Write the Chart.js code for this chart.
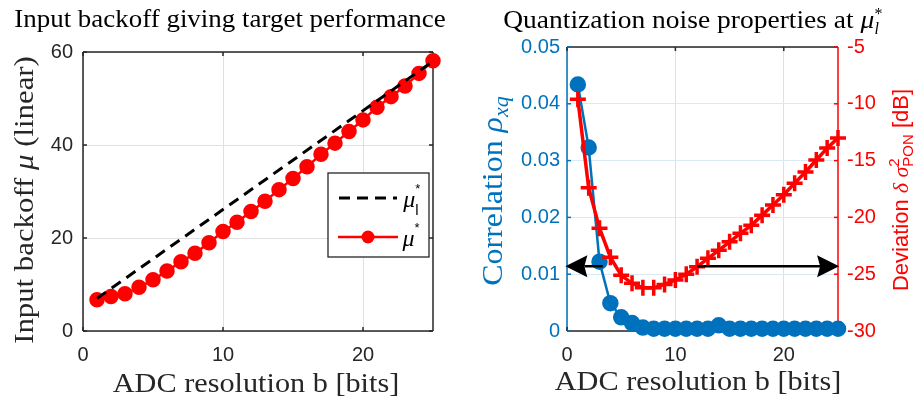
<!DOCTYPE html>
<html>
<head>
<meta charset="utf-8">
<script src="https://cdn.jsdelivr.net/npm/chart.js@4/dist/chart.umd.min.js"></script>
<style>
  html, body { margin: 0; padding: 0; background: #fff; }
  #wrap { position: relative; width: 915px; height: 398px; overflow: hidden; }
  canvas { position: absolute; top: 0; }
</style>
</head>
<body>
<div id="wrap">
  <canvas id="left"  width="457" height="398" style="left:0;width:457px;height:398px"></canvas>
  <canvas id="right" width="458" height="398" style="left:457px;width:458px;height:398px"></canvas>
</div>
<script>
'use strict';

// ─── Data ────────────────────────────────────────────────────────────────────
const BITS = [1, 2, 3, 4, 5, 6, 7, 8, 9, 10, 11, 12, 13, 14, 15, 16, 17, 18, 19, 20, 21, 22, 23, 24, 25];

// input backoff reaching the target (linear)
const MU_STAR = [6.7, 7.4, 8.0, 9.4, 11.0, 12.9, 14.9, 16.7, 19.0, 21.4, 23.4, 25.7, 27.9,
                 30.4, 32.8, 35.3, 38.0, 40.4, 42.9, 45.4, 48.1, 50.4, 52.7, 55.4, 58.1];
const MU_L_BITS = [1, 25];
const MU_L_STAR = [7.0, 58.0];

// correlation between input and quantization noise
const RHO_XQ = [0.0434, 0.0323, 0.0122, 0.0049, 0.0024, 0.0014, 0.0006, 0.0004, 0.0004, 0.0004,
                0.0004, 0.0004, 0.0004, 0.0010, 0.0004, 0.0004, 0.0004, 0.0004, 0.0004, 0.0004,
                0.0004, 0.0004, 0.0004, 0.0004, 0.0004];
// deviation of the noise power (dB)
const DEV_DB = [-9.6, -17.4, -20.95, -23.5, -25.1, -25.8, -26.2, -26.2, -25.9, -25.5, -25.0, -24.35, -23.6,
                -22.9, -22.15, -21.4, -20.7, -19.8, -18.9, -18.0, -17.0, -16.0, -14.95, -13.9, -13.0];

const X_TICKS   = [0, 10, 20];
const MU_TICKS  = [0, 20, 40, 60];
const RHO_TICKS = [0, 0.01, 0.02, 0.03, 0.04, 0.05];
const DEV_TICKS = [-30, -25, -20, -15, -10, -5];

// axis-pointer arrows: [b, value] pairs on the given y scale
const ARROWS = [
  { axis: 'y',  from: [3.3, 0.0114], to: [-0.15, 0.0114] },
  { axis: 'y1', from: [12, -24.3],   to: [25.1, -24.3] },
];

// ─── Style ───────────────────────────────────────────────────────────────────
const SERIF   = '"Liberation Serif", "Times New Roman", serif';
const SANS    = '"Liberation Sans", Arial, Helvetica, sans-serif';
const STRETCH = 1.1;           // widen the Times face towards Computer Modern
const AX_GRAY   = '#262626';
const GRID_GRAY = '#e0e0e0';
const GRID_BLUE = '#d9eaf5';
const BLUE = '#0072BD';
const RED  = '#FF0000';

// ─── Helpers ─────────────────────────────────────────────────────────────────
const pts = (xs, ys) => xs.map((x, i) => ({ x, y: ys[i] }));

function axis({ position, min, max, ticks, color, grid, pad, size }) {
  return {
    type: 'linear',
    position, min, max,
    afterBuildTicks: s => { s.ticks = ticks.map(v => ({ value: v })); },
    afterFit: s => { if (s.isHorizontal()) s.height = size; else s.width = size; },
    grid: grid ? { color: grid, lineWidth: 1, drawTicks: false } : { display: false, drawTicks: false },
    border: { display: false },
    ticks: {
      color, padding: pad, autoSkip: false, maxRotation: 0,
      font: { family: SANS, size: 20 },
      callback: v => String(v),
    },
  };
}

function runFont(r) {
  return `${r.it ? 'italic ' : ''}${r.size}px ${r.sans ? SANS : SERIF}`;
}

// Draw a row of text runs (sub/superscripts via dy), centred at x
function drawRuns(ctx, runs, x, y, rot, color) {
  ctx.save();
  ctx.translate(x, y);
  ctx.rotate(rot || 0);
  ctx.fillStyle = color;
  ctx.textAlign = 'left';
  ctx.textBaseline = 'alphabetic';
  const widths = runs.map(r => {
    ctx.font = runFont(r);
    return ctx.measureText(r.t).width * (r.sx || 1);
  });
  const total = runs.reduce((acc, r, i) => acc + (r.stack ? 0 : widths[i]), 0);
  let cx = -total / 2;
  runs.forEach((r, i) => {
    ctx.save();
    ctx.font = runFont(r);
    ctx.translate(cx, r.dy || 0);
    ctx.scale(r.sx || 1, 1);
    ctx.fillText(r.t, 0, 0);
    ctx.restore();
    if (!r.stack) cx += widths[i];
  });
  ctx.restore();
}

// Axes box and inward tick marks, under the data
function axesBox(edges, marks) {
  return {
    id: 'axesBox',
    beforeDatasetsDraw(chart) {
      const { ctx, chartArea: a } = chart;
      ctx.save();
      ctx.lineWidth = 1.5;
      const seg = (c, x0, y0, x1, y1) => {
        ctx.strokeStyle = c; ctx.beginPath(); ctx.moveTo(x0, y0); ctx.lineTo(x1, y1); ctx.stroke();
      };
      seg(edges.top,    a.left,  a.top,    a.right, a.top);
      seg(edges.bottom, a.left,  a.bottom, a.right, a.bottom);
      seg(edges.left,   a.left,  a.top,    a.left,  a.bottom);
      seg(edges.right,  a.right, a.top,    a.right, a.bottom);
      const L = 4;
      marks.forEach(m => {
        const s = chart.scales[m.id];
        s.ticks.forEach(t => {
          const p = s.getPixelForValue(t.value);
          m.sides.forEach(side => {
            if (side === 'bottom') seg(m.color, p, a.bottom, p, a.bottom - L);
            if (side === 'top')    seg(m.color, p, a.top, p, a.top + L);
            if (side === 'left')   seg(m.color, a.left, p, a.left + L, p);
            if (side === 'right')  seg(m.color, a.right, p, a.right - L, p);
          });
        });
      });
      ctx.restore();
    },
  };
}

function textLayer(items) {
  return {
    id: 'textLayer',
    afterDraw(chart) {
      items.forEach(it => drawRuns(chart.ctx, it.runs, it.x, it.y, it.rot, it.color));
    },
  };
}

function drawArrow(ctx, x0, y0, x1, y1) {
  const L = 22, W = 11, N = 3;
  const ang = Math.atan2(y1 - y0, x1 - x0);
  const len = Math.hypot(x1 - x0, y1 - y0);
  ctx.save();
  ctx.translate(x1, y1);
  ctx.rotate(ang);
  ctx.strokeStyle = '#000'; ctx.fillStyle = '#000'; ctx.lineWidth = 2.5;
  ctx.beginPath(); ctx.moveTo(-len, 0); ctx.lineTo(-L + N, 0); ctx.stroke();
  ctx.beginPath();
  ctx.moveTo(0, 0); ctx.lineTo(-L, -W); ctx.lineTo(-L + N, 0); ctx.lineTo(-L, W);
  ctx.closePath(); ctx.fill();
  ctx.restore();
}

const arrowLayer = {
  id: 'arrowLayer',
  afterDatasetsDraw(chart) {
    const xs = chart.scales.x;
    ARROWS.forEach(a => {
      const ys = chart.scales[a.axis];
      drawArrow(chart.ctx,
        xs.getPixelForValue(a.from[0]), ys.getPixelForValue(a.from[1]),
        xs.getPixelForValue(a.to[0]),   ys.getPixelForValue(a.to[1]));
    });
  },
};

// Legend box for the backoff panel
const backoffLegend = {
  id: 'backoffLegend',
  afterDatasetsDraw(chart) {
    const ctx = chart.ctx;
    const [dash, solid] = chart.data.datasets;
    ctx.save();
    ctx.fillStyle = '#fff'; ctx.strokeStyle = AX_GRAY; ctx.lineWidth = 1.3;
    ctx.fillRect(328, 173, 101, 84);
    ctx.strokeRect(328, 173, 101, 84);

    ctx.strokeStyle = dash.borderColor; ctx.lineWidth = dash.borderWidth;
    ctx.setLineDash(dash.borderDash);
    ctx.beginPath(); ctx.moveTo(339, 198); ctx.lineTo(397, 198); ctx.stroke();
    ctx.setLineDash([]);

    ctx.strokeStyle = solid.borderColor; ctx.lineWidth = solid.borderWidth;
    ctx.beginPath(); ctx.moveTo(338, 237); ctx.lineTo(398, 237); ctx.stroke();
    ctx.fillStyle = solid.backgroundColor;
    ctx.beginPath(); ctx.arc(368, 237, solid.pointRadius, 0, Math.PI * 2); ctx.fill();
    ctx.restore();

    drawRuns(ctx, [{ t: 'μ', it: true, size: 24 }, { t: '*', sans: true, size: 13, dy: -14, stack: true },
                   { t: 'l', sans: true, size: 15, dy: 8 }], 411, 207, 0, '#000');
    drawRuns(ctx, [{ t: 'μ', it: true, size: 24 }, { t: '*', sans: true, size: 13, dy: -14 }], 411, 246, 0, '#000');
  },
};

Chart.defaults.font.family = SANS;

// ─── Left panel: input backoff ───────────────────────────────────────────────
new Chart(document.getElementById('left'), {
  type: 'line',
  data: {
    datasets: [
      { data: pts(MU_L_BITS, MU_L_STAR), borderColor: '#000', borderWidth: 3, borderDash: [11, 7],
        pointRadius: 0, clip: false },
      { data: pts(BITS, MU_STAR), borderColor: RED, backgroundColor: RED, borderWidth: 2.5,
        pointStyle: 'circle', pointRadius: 6.5, pointBorderColor: RED, pointBackgroundColor: RED, clip: false },
    ],
  },
  options: {
    responsive: false, animation: false, devicePixelRatio: 1, events: [],
    layout: { padding: { top: 52, right: 24, left: 0, bottom: 0 } },
    plugins: { legend: { display: false }, tooltip: { enabled: false }, title: { display: false } },
    scales: {
      x: axis({ position: 'bottom', min: 0, max: 25, ticks: X_TICKS, color: AX_GRAY, grid: GRID_GRAY, pad: 12, size: 67 }),
      y: axis({ position: 'left', min: 0, max: 60, ticks: MU_TICKS, color: AX_GRAY, grid: GRID_GRAY, pad: 10, size: 83 }),
    },
  },
  plugins: [
    axesBox({ top: AX_GRAY, bottom: AX_GRAY, left: AX_GRAY, right: AX_GRAY },
            [{ id: 'x', sides: ['bottom', 'top'], color: AX_GRAY }, { id: 'y', sides: ['left', 'right'], color: AX_GRAY }]),
    backoffLegend,
    textLayer([
      { runs: [{ t: 'Input backoff giving target performance', size: 24.5, sx: STRETCH }], x: 230, y: 27, color: '#000' },
      { runs: [{ t: 'ADC resolution b [bits]', size: 27.5, sx: STRETCH }], x: 256, y: 392, color: AX_GRAY },
      { runs: [{ t: 'Input backoff ', size: 28, sx: STRETCH }, { t: 'μ', it: true, size: 28, sx: STRETCH },
               { t: ' (linear)', size: 28, sx: STRETCH }], x: 33, y: 200, rot: -Math.PI / 2, color: AX_GRAY },
    ]),
  ],
});

// ─── Right panel: quantization noise ─────────────────────────────────────────
new Chart(document.getElementById('right'), {
  type: 'line',
  data: {
    datasets: [
      { data: pts(BITS, DEV_DB), yAxisID: 'y1', borderColor: RED, borderWidth: 3.5,
        pointStyle: 'cross', pointRadius: 8, pointBorderWidth: 3.5, pointBorderColor: RED, clip: false },
      { data: pts(BITS, RHO_XQ), yAxisID: 'y', borderColor: BLUE, backgroundColor: BLUE, borderWidth: 2.5,
        pointStyle: 'circle', pointRadius: 7, pointBorderColor: BLUE, pointBackgroundColor: BLUE, clip: false },
    ],
  },
  options: {
    responsive: false, animation: false, devicePixelRatio: 1, events: [],
    layout: { padding: { top: 47, right: 0, left: 0, bottom: 0 } },
    plugins: { legend: { display: false }, tooltip: { enabled: false }, title: { display: false } },
    scales: {
      x:  axis({ position: 'bottom', min: 0, max: 25, ticks: X_TICKS, color: AX_GRAY, grid: GRID_GRAY, pad: 12, size: 67 }),
      y:  axis({ position: 'left', min: 0, max: 0.05, ticks: RHO_TICKS, color: BLUE, grid: GRID_BLUE, pad: 7, size: 110 }),
      y1: axis({ position: 'right', min: -30, max: -5, ticks: DEV_TICKS, color: RED, grid: null, pad: 9, size: 77 }),
    },
  },
  plugins: [
    axesBox({ top: AX_GRAY, bottom: AX_GRAY, left: BLUE, right: RED },
            [{ id: 'x', sides: ['bottom', 'top'], color: AX_GRAY }, { id: 'y', sides: ['left'], color: BLUE },
             { id: 'y1', sides: ['right'], color: RED }]),
    arrowLayer,
    textLayer([
      { runs: [{ t: 'Quantization noise properties at ', size: 25, sx: STRETCH }, { t: 'μ', it: true, size: 25, sx: STRETCH },
               { t: '*', size: 16, dy: -9, stack: true }, { t: 'l', it: true, size: 16, dy: 6 }],
        x: 234, y: 28, color: '#000' },
      { runs: [{ t: 'ADC resolution b [bits]', size: 27.5, sx: STRETCH }], x: 241, y: 390, color: AX_GRAY },
      { runs: [{ t: 'Correlation ', size: 29, sx: STRETCH }, { t: 'ρ', it: true, size: 29, sx: STRETCH },
               { t: 'xq', it: true, size: 20, dy: 6, sx: STRETCH }], x: 45, y: 191, rot: -Math.PI / 2, color: BLUE },
      { runs: [{ t: 'Deviation ', sans: true, size: 22 }, { t: 'δ', it: true, size: 22 }, { t: ' ', size: 22 },
               { t: 'σ', it: true, size: 22 }, { t: '2', sans: true, size: 15, dy: -9, stack: true },
               { t: 'PON', sans: true, size: 15, dy: 5 }, { t: ' [dB]', sans: true, size: 22 }],
        x: 451, y: 190, rot: -Math.PI / 2, color: RED },
    ]),
  ],
});
</script>
</body>
</html>
